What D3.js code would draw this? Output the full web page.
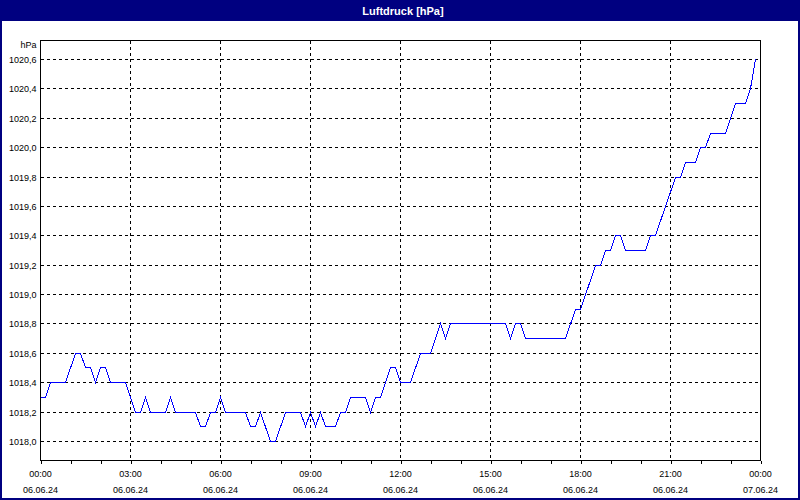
<!DOCTYPE html>
<html>
<head>
<meta charset="utf-8">
<script src="https://cdn.jsdelivr.net/npm/d3@7/dist/d3.min.js"></script>
<style>
  html, body { margin: 0; padding: 0; background: #fff; }
  svg { display: block; font-family: 'Liberation Sans', Arial, sans-serif; }
</style>
</head>
<body>
<svg id="chart" width="800" height="500"></svg>
<script>
// + -- Data: air pressure, vertices of the logged curve ---------------------- +
const TITLE = 'Luftdruck [hPa]'
const UNIT = 'hPa'
const DAY = [2024, 5, 6]

const times = [
  '00:00', '00:10', '00:20', '00:50', '01:10', '01:20', '01:30', '01:40', '01:50', '02:00',
  '02:10', '02:20', '02:50', '03:10', '03:20', '03:30', '03:40', '04:10', '04:20', '04:30',
  '05:10', '05:20', '05:30', '05:40', '05:50', '06:00', '06:10', '06:50', '07:00', '07:10',
  '07:20', '07:40', '07:50', '08:10', '08:40', '08:50', '09:00', '09:10', '09:20', '09:30',
  '09:50', '10:00', '10:10', '10:20', '10:50', '11:00', '11:10', '11:20', '11:40', '11:50',
  '12:00', '12:20', '12:40', '13:00', '13:20', '13:30', '13:40', '15:30', '15:40', '15:50',
  '16:00', '16:10', '17:30', '17:50', '18:00', '18:30', '18:40', '18:50', '19:00', '19:10',
  '19:20', '19:30', '20:10', '20:20', '20:30', '21:10', '21:20', '21:30', '21:50', '22:00',
  '22:10', '22:20', '22:50', '23:10', '23:30', '23:40', '23:50'
]
const pressure = [
  1018.3, 1018.3, 1018.4, 1018.4, 1018.6, 1018.6, 1018.5, 1018.5, 1018.4, 1018.5,
  1018.5, 1018.4, 1018.4, 1018.2, 1018.2, 1018.3, 1018.2, 1018.2, 1018.3, 1018.2,
  1018.2, 1018.1, 1018.1, 1018.2, 1018.2, 1018.3, 1018.2, 1018.2, 1018.1, 1018.1,
  1018.2, 1018.0, 1018.0, 1018.2, 1018.2, 1018.1, 1018.2, 1018.1, 1018.2, 1018.1,
  1018.1, 1018.2, 1018.2, 1018.3, 1018.3, 1018.2, 1018.3, 1018.3, 1018.5, 1018.5,
  1018.4, 1018.4, 1018.6, 1018.6, 1018.8, 1018.7, 1018.8, 1018.8, 1018.7, 1018.8,
  1018.8, 1018.7, 1018.7, 1018.9, 1018.9, 1019.2, 1019.2, 1019.3, 1019.3, 1019.4,
  1019.4, 1019.3, 1019.3, 1019.4, 1019.4, 1019.8, 1019.8, 1019.9, 1019.9, 1020.0,
  1020.0, 1020.1, 1020.1, 1020.3, 1020.3, 1020.4, 1020.6
]
const yTicks = [1018.0, 1018.2, 1018.4, 1018.6, 1018.8, 1019.0, 1019.2, 1019.4, 1019.6,
  1019.8, 1020.0, 1020.2, 1020.4, 1020.6]

// + -- Layout ---------------------------------------------------------------- +
const W = 800
const H = 500
const m = {left: 40.5, right: 760.5, top: 40.5, bottom: 460.5}
const navy = '#000080'

const toDate = (hhmm, dayOffset = 0) => {
  let [h, mi] = hhmm.split(':').map(Number)
  return new Date(DAY[0], DAY[1], DAY[2] + dayOffset, h, mi)
}
const data = times.map((t, i) => ({date: toDate(t), value: pressure[i]}))
// snap to pixel centres so the curve sits exactly on the grid lines
const px = v => Math.round(v - 0.5) + 0.5

const svg = d3.select('#chart')

// outer frame and title bar
svg.append('rect')
  .attr('x', 1).attr('y', 1).attr('width', W - 2).attr('height', H - 2)
  .attr('fill', '#fff').attr('stroke', navy).attr('stroke-width', 2)
svg.append('rect')
  .attr('x', 0).attr('y', 0).attr('width', W).attr('height', 21)
  .attr('fill', navy)
svg.append('text')
  .attr('x', W / 2 + 3).attr('y', 14.5)
  .attr('text-anchor', 'middle')
  .attr('fill', '#fff')
  .attr('font-weight', 700)
  .style('font-size', '11px')
  .text(TITLE)

// + -- Scales ---------------------------------------------------------------- +
const x = d3.scaleTime()
  .domain([toDate('00:00'), toDate('00:00', 1)])
  .range([m.left, m.right])

// 5 % padding above and below the data range
let [lo, hi] = d3.extent(pressure)
let pad = (hi - lo) * 0.05
const y = d3.scaleLinear()
  .domain([lo - pad, hi + pad])
  .range([m.bottom, m.top])

// + -- Grid ------------------------------------------------------------------ +
const grid = svg.append('g')
  .attr('stroke', '#000')
  .attr('stroke-dasharray', '3,3')
  .attr('shape-rendering', 'crispEdges')

grid.selectAll('line.h')
  .data(yTicks)
  .enter().append('line')
  .attr('class', 'h')
  .attr('x1', m.left).attr('x2', m.right)
  .attr('y1', d => px(y(d)))
  .attr('y2', d => px(y(d)))

const majors = d3.timeHour.every(3).range(x.domain()[0], x.domain()[1]).slice(1)
grid.selectAll('line.v')
  .data(majors)
  .enter().append('line')
  .attr('class', 'v')
  .attr('x1', d => px(x(d))).attr('x2', d => px(x(d)))
  .attr('y1', m.top).attr('y2', m.bottom)

// + -- Line ------------------------------------------------------------------ +
const line = d3.line()
  .x(d => px(x(d.date)))
  .y(d => px(y(d.value)))

svg.append('path')
  .datum(data)
  .attr('d', line)
  .attr('fill', 'none')
  .attr('stroke', '#0000ff')
  .attr('stroke-width', 1)
  .attr('shape-rendering', 'crispEdges')

// + -- Plot frame ------------------------------------------------------------ +
svg.append('rect')
  .attr('x', m.left).attr('y', m.top)
  .attr('width', m.right - m.left).attr('height', m.bottom - m.top)
  .attr('fill', 'none').attr('stroke', '#000')
  .attr('shape-rendering', 'crispEdges')

// + -- Axes ------------------------------------------------------------------ +
const xAxis = d3.axisBottom(x)
  .ticks(d3.timeHour.every(1))
  .tickSize(3)
  .tickFormat('')
const gx = svg.append('g')
  .attr('transform', 'translate(0,' + m.bottom + ')')
  .call(xAxis)
gx.select('.domain').remove()
gx.selectAll('line').attr('shape-rendering', 'crispEdges')

const labelTimes = d3.timeHour.every(3).range(x.domain()[0], d3.timeMinute.offset(x.domain()[1], 1))
const xl = svg.append('g')
  .attr('font-size', '9px')
  .attr('fill', '#000')
  .attr('text-anchor', 'middle')
xl.selectAll('text.t')
  .data(labelTimes)
  .enter().append('text')
  .attr('class', 't')
  .attr('x', d => x(d)).attr('y', 476.5)
  .text(d3.timeFormat('%H:%M'))
xl.selectAll('text.d')
  .data(labelTimes)
  .enter().append('text')
  .attr('class', 'd')
  .attr('x', d => x(d)).attr('y', 492.5)
  .text(d3.timeFormat('%d.%m.%y'))

const yl = svg.append('g')
  .attr('font-size', '9px')
  .attr('fill', '#000')
  .attr('text-anchor', 'end')
yl.selectAll('text')
  .data(yTicks)
  .enter().append('text')
  .attr('x', 36.5)
  .attr('y', d => px(y(d)))
  .attr('dy', '0.36em')
  .text(d => d.toFixed(1).replace('.', ','))
yl.append('text')
  .attr('x', 36.5).attr('y', 47.5)
  .text(UNIT)
</script>
</body>
</html>
